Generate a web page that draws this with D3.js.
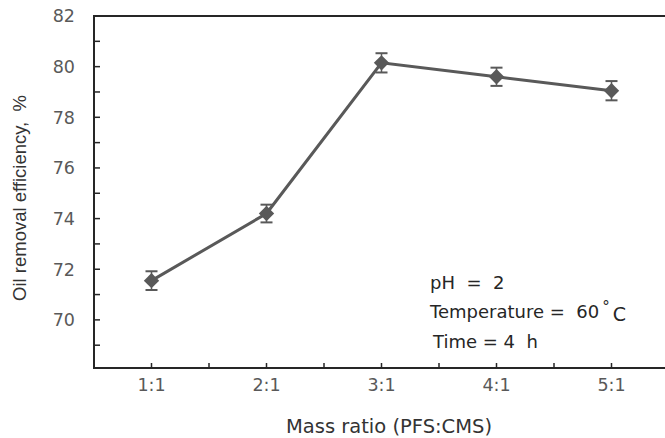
<!DOCTYPE html>
<html>
<head>
<meta charset="utf-8">
<script src="https://cdn.jsdelivr.net/npm/d3@7"></script>
<style>
  body { margin: 0; background: #fff; }
  svg { display: block; font-family: "DejaVu Sans", sans-serif; }
  text { white-space: pre; }
</style>
</head>
<body>
<svg id="chart" width="665" height="438"></svg>
<script>
// data
const categories = ["1:1", "2:1", "3:1", "4:1", "5:1"];
const efficiency = [71.55, 74.2, 80.15, 79.6, 79.05];
const errors = [0.37, 0.35, 0.38, 0.36, 0.38];
const yTicks = [70, 72, 74, 76, 78, 80, 82];
const yMinorTicks = [69, 71, 73, 75, 77, 79, 81];
const notes = ["pH  =  2", "Temperature =  60", "Time = 4  h"];

const svg = d3.select("#chart");
const W = +svg.attr("width");
const plotLeft = 94, plotTop = 16, plotBottom = 368;

const x = d3.scaleBand()
  .domain(categories)
  .range([plotLeft, plotLeft + 115 * categories.length])
  .padding(0);

const y = d3.scaleLinear()
  .domain([68.1, 82])
  .range([plotBottom, plotTop]);

const cx = d => x(d) + x.bandwidth() / 2;
const dark = "#595959";
const axisCol = "#262626";

// frame lines (top + bottom run to the edge, left axis)
svg.append("line").attr("x1", plotLeft).attr("x2", W).attr("y1", plotTop).attr("y2", plotTop)
  .attr("stroke", axisCol).attr("stroke-width", 2);
svg.append("line").attr("x1", plotLeft - 1).attr("x2", W).attr("y1", plotBottom).attr("y2", plotBottom)
  .attr("stroke", axisCol).attr("stroke-width", 2);
svg.append("line").attr("x1", plotLeft).attr("x2", plotLeft).attr("y1", plotTop - 1).attr("y2", plotBottom + 1)
  .attr("stroke", axisCol).attr("stroke-width", 2);

// y ticks (inside)
svg.selectAll(".ytick")
  .data(yTicks.concat(yMinorTicks))
  .enter().append("line")
  .attr("x1", plotLeft).attr("x2", plotLeft + 6)
  .attr("y1", d => y(d)).attr("y2", d => y(d))
  .attr("stroke", axisCol).attr("stroke-width", 1.5);

svg.selectAll(".ylab")
  .data(yTicks)
  .enter().append("text")
  .attr("x", plotLeft - 19)
  .attr("y", d => y(d))
  .attr("dy", "0.36em")
  .attr("text-anchor", "end")
  .attr("font-size", "17.5px")
  .attr("fill", dark)
  .text(d => d);

// x ticks: at band centres and band edges
const xTickPos = [];
categories.forEach(c => { xTickPos.push(cx(c)); xTickPos.push(x(c) + x.bandwidth()); });
svg.selectAll(".xtick")
  .data(xTickPos)
  .enter().append("line")
  .attr("x1", d => d).attr("x2", d => d)
  .attr("y1", plotBottom).attr("y2", plotBottom - 5)
  .attr("stroke", axisCol).attr("stroke-width", 1.5);

svg.selectAll(".xlab")
  .data(categories)
  .enter().append("text")
  .attr("x", d => cx(d))
  .attr("y", 391)
  .attr("text-anchor", "middle")
  .attr("font-size", "17.5px")
  .attr("fill", dark)
  .text(d => d);

// axis titles
svg.append("text")
  .attr("x", 389).attr("y", 433)
  .attr("text-anchor", "middle")
  .attr("font-size", "19.5px")
  .attr("fill", "#333")
  .text("Mass ratio (PFS:CMS)");

svg.append("text")
  .attr("transform", "translate(26,198) rotate(-90)")
  .attr("text-anchor", "middle")
  .attr("font-family", "'Liberation Sans', Arial, sans-serif")
  .attr("font-size", "18.5px")
  .attr("fill", "#333")
  .text("Oil removal efficiency,  %");

// series
const pts = categories.map((c, i) => ({ c, v: efficiency[i], e: errors[i] }));

svg.append("path")
  .datum(pts)
  .attr("fill", "none")
  .attr("stroke", dark)
  .attr("stroke-width", 3)
  .attr("d", d3.line().x(d => cx(d.c)).y(d => y(d.v)));

const eb = svg.selectAll(".err").data(pts).enter().append("g");
eb.append("line")
  .attr("x1", d => cx(d.c)).attr("x2", d => cx(d.c))
  .attr("y1", d => y(d.v - d.e)).attr("y2", d => y(d.v + d.e))
  .attr("stroke", dark).attr("stroke-width", 1.5);
[-1, 1].forEach(s => {
  eb.append("line")
    .attr("x1", d => cx(d.c) - 6).attr("x2", d => cx(d.c) + 6)
    .attr("y1", d => y(d.v + s * d.e)).attr("y2", d => y(d.v + s * d.e))
    .attr("stroke", dark).attr("stroke-width", 2);
});

svg.selectAll(".pt")
  .data(pts)
  .enter().append("path")
  .attr("transform", d => `translate(${cx(d.c)},${y(d.v)})`)
  .attr("d", d3.symbol(d3.symbolDiamond2, 150)())
  .attr("fill", dark);

// condition notes
const noteG = svg.append("g").attr("font-size", "18px").attr("fill", "#262626");
noteG.append("text").attr("x", 430).attr("y", 289).text(notes[0]);
const t2 = noteG.append("text").attr("x", 430).attr("y", 318);
t2.append("tspan").text(notes[1]);
t2.append("tspan").attr("dx", 3).attr("dy", -6).attr("font-size", "15px").text("°");
t2.append("tspan").attr("dx", 3).attr("dy", 9).attr("font-size", "19px").text("C");
noteG.append("text").attr("x", 433).attr("y", 348).text(notes[2]);
</script>
</body>
</html>
